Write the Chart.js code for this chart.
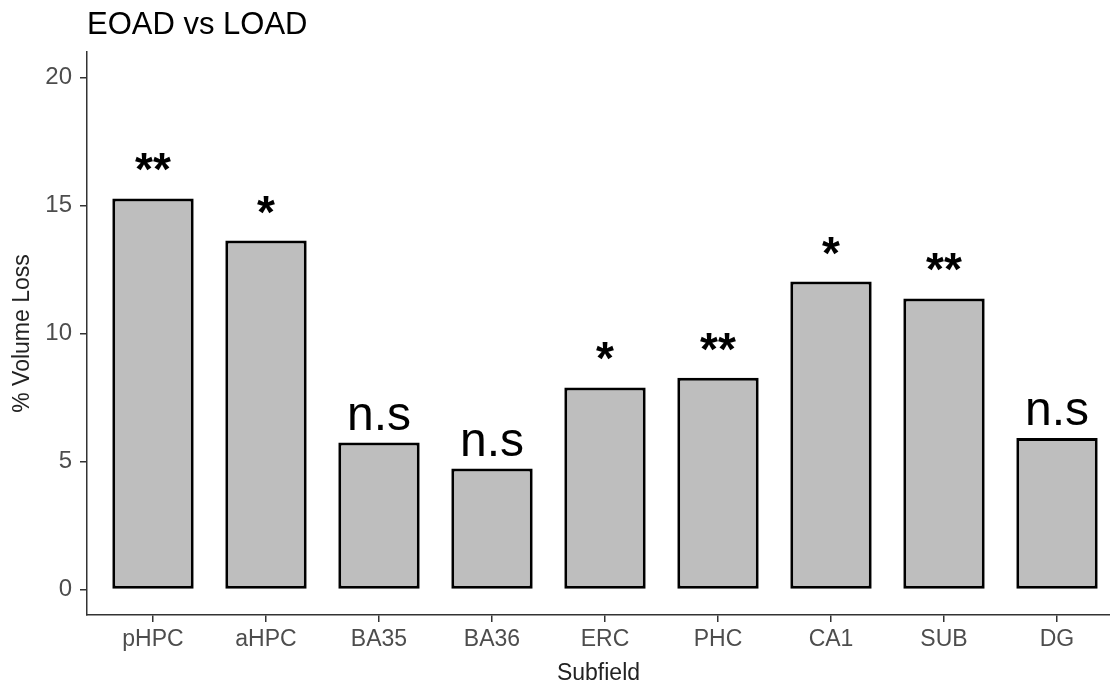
<!DOCTYPE html>
<html>
<head>
<meta charset="utf-8">
<script src="https://cdn.jsdelivr.net/npm/chart.js@4/dist/chart.umd.min.js"></script>
<style>
  body { margin: 0; background: #fff; }
  #wrap { width: 1110px; height: 687px; position: relative; }
</style>
</head>
<body>
<div id="wrap"><canvas id="volumeChart"></canvas></div>
<script>
const subfields = ["pHPC", "aHPC", "BA35", "BA36", "ERC", "PHC", "CA1", "SUB", "DG"];
const volumeLoss = [15.28, 13.63, 5.74, 4.72, 7.89, 8.27, 12.03, 11.37, 5.92];
const significance = ["**", "*", "n.s", "n.s", "*", "**", "*", "**", "n.s"];
const yTicks = [0, 5, 10, 15, 20];

const FONT = "'Liberation Sans', Arial, sans-serif";

// title + significance marks drawn above the bars
const annotate = {
    id: "annotate",
    afterDatasetsDraw(chart) {
        const ctx = chart.ctx;
        const xs = chart.scales.x, ys = chart.scales.y;
        ctx.save();
        ctx.fillStyle = "#000";
        ctx.textAlign = "center";
        ctx.textBaseline = "alphabetic";
        significance.forEach(function (s, i) {
            const x = xs.getPixelForValue(i + 1);
            const y = ys.getPixelForValue(volumeLoss[i]);
            if (s === "n.s") {
                ctx.font = "48px " + FONT;
                ctx.fillText(s, x, y - 13);
            } else {
                ctx.font = "bold 46px " + FONT;
                ctx.fillText(s, x, y - 13);
            }
        });
        ctx.font = "31px " + FONT;
        ctx.textAlign = "left";
        ctx.fillText("EOAD vs LOAD", chart.chartArea.left, 34);
        ctx.restore();
    }
};

new Chart(document.getElementById("volumeChart"), {
    type: "bar",
    data: {
        datasets: [{
            label: "% Volume Loss",
            data: subfields.map((s, i) => ({ x: i + 1, y: volumeLoss[i] })),
            backgroundColor: "#bebebe",
            borderColor: "#000",
            borderWidth: 3,
            borderSkipped: false,
            barPercentage: 0.72,
            categoryPercentage: 1
        }]
    },
    options: {
        responsive: true,
        maintainAspectRatio: false,
        animation: false,
        layout: { padding: { top: 52, left: 0, right: 0, bottom: 0 } },
        plugins: { legend: { display: false }, tooltip: { enabled: false } },
        scales: {
            x: {
                type: "linear",
                offset: false,
                min: 0.416,
                max: 9.469,
                afterBuildTicks: s => { s.ticks = subfields.map((c, i) => ({ value: i + 1 })); },
                afterFit: s => { s.height = 72; },
                ticks: {
                    callback: v => subfields[v - 1],
                    color: "#4d4d4d",
                    font: { family: FONT, size: 23 },
                    padding: 4,
                    maxRotation: 0,
                    autoSkip: false
                },
                grid: { offset: false, drawOnChartArea: false, tickLength: 7, color: "#333", lineWidth: 1.5 },
                border: { color: "#333", width: 1.5 },
                title: {
                    display: true,
                    text: "Subfield",
                    color: "#222",
                    font: { family: FONT, size: 23 },
                    padding: { top: 0, bottom: 0 }
                }
            },
            y: {
                min: -1,
                max: 21,
                afterBuildTicks: s => { s.ticks = yTicks.map(v => ({ value: v })); },
                afterFit: s => { s.width = 87; },
                ticks: {
                    color: "#4d4d4d",
                    font: { family: FONT, size: 24 },
                    padding: 8
                },
                grid: { drawOnChartArea: false, tickLength: 7, color: "#333", lineWidth: 1.5 },
                border: { color: "#333", width: 1.5 },
                title: {
                    display: true,
                    text: "% Volume Loss",
                    color: "#222",
                    font: { family: FONT, size: 23 },
                    padding: { top: 9, bottom: 0 }
                }
            }
        }
    },
    plugins: [annotate]
});
</script>
</body>
</html>
